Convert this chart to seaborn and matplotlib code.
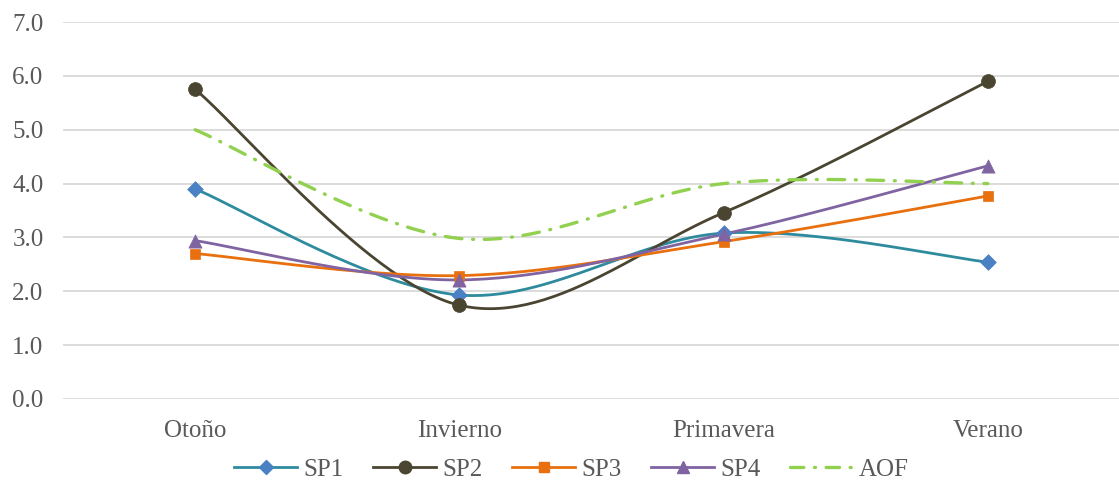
import numpy as np
import pandas as pd
import matplotlib
matplotlib.use("Agg")
import matplotlib.pyplot as plt
import seaborn as sns
from matplotlib.lines import Line2D

# Seasonal values per sampling point
seasons = ["Otoño", "Invierno", "Primavera", "Verano"]
sp1 = [3.90, 1.93, 3.08, 2.54]
sp2 = [5.75, 1.74, 3.46, 5.90]
sp3 = [2.70, 2.29, 2.92, 3.77]
sp4 = [2.94, 2.21, 3.06, 4.33]
aof = [5.00, 2.98, 4.00, 4.00]
yticks = [0.0, 1.0, 2.0, 3.0, 4.0, 5.0, 6.0, 7.0]

series = {"SP1": sp1, "SP2": sp2, "SP3": sp3, "SP4": sp4, "AOF": aof}
colors = {"SP1": "#2E8B9E", "SP2": "#4A4530", "SP3": "#E8700E",
          "SP4": "#8064A2", "AOF": "#92D050"}
marker_colors = {"SP1": "#4A80C4", "SP2": "#4A4530", "SP3": "#E8700E",
                 "SP4": "#8064A2"}
markers = {"SP1": "D", "SP2": "o", "SP3": "s", "SP4": "^"}
msizes = {"SP1": 8, "SP2": 10, "SP3": 7.5, "SP4": 9.5}


def smooth(xs, ys, n=60):
    """Bezier smoothing through the points (Catmull-Rom style control points)."""
    p = np.column_stack([xs, ys]).astype(float)
    ext = np.vstack([p[0], p, p[-1]])
    out = []
    t = np.linspace(0, 1, n)[:, None]
    for i in range(len(p) - 1):
        p0, p1 = ext[i + 1], ext[i + 2]
        c1 = p0 + (ext[i + 2] - ext[i]) / 6.0
        c2 = p1 - (ext[i + 3] - ext[i + 1]) / 6.0
        seg = ((1 - t) ** 3) * p0 + 3 * ((1 - t) ** 2) * t * c1 \
            + 3 * (1 - t) * t ** 2 * c2 + t ** 3 * p1
        out.append(seg if i == 0 else seg[1:])
    return np.vstack(out)


plt.rcParams["font.family"] = ["Liberation Serif", "DejaVu Serif"]
fig = plt.figure(figsize=(11.19, 4.80), dpi=100)
ax = fig.add_axes([0.0563, 0.169, 0.9446, 0.785])

xpos = np.arange(len(seasons))
for name, vals in series.items():
    curve = smooth(xpos, vals)
    df = pd.DataFrame({"x": curve[:, 0], "y": curve[:, 1]})
    if name == "AOF":
        sns.lineplot(data=df, x="x", y="y", ax=ax, sort=False, estimator=None,
                     color=colors[name], linewidth=2.4,
                     dashes=False, zorder=3)
        ax.lines[-1].set_dashes((5, 3.2, 0.3, 3.2))
        ax.lines[-1].set_dash_capstyle("round")
    else:
        sns.lineplot(data=df, x="x", y="y", ax=ax, sort=False, estimator=None,
                     color=colors[name], linewidth=2.0, zorder=3)
        pts = pd.DataFrame({"x": xpos, "y": vals})
        sns.scatterplot(data=pts, x="x", y="y", ax=ax, marker=markers[name],
                        s=msizes[name] ** 2, color=marker_colors[name],
                        edgecolor=marker_colors[name], linewidth=0.5, zorder=4)

ax.set_xlim(-0.5, 3.5)
ax.set_ylim(0, 7)
ax.set_yticks(yticks)
ax.set_yticklabels([f"{v:.1f}" for v in yticks])
ax.set_xticks(xpos)
ax.set_xticklabels(seasons)
ax.set_xlabel("")
ax.set_ylabel("")
ax.grid(axis="y", color="#D9D9D9", linewidth=1.3, zorder=0)
ax.grid(axis="x", visible=False)
ax.set_axisbelow(True)
for s in ax.spines.values():
    s.set_visible(False)
ax.tick_params(axis="both", length=0, labelsize=18, colors="#595959")
ax.tick_params(axis="y", pad=14)
ax.tick_params(axis="x", pad=15)
ax.set_facecolor("white")

handles = []
for name in series:
    if name == "AOF":
        h = Line2D([], [], color=colors[name], linewidth=2.4,
                   dashes=(4, 3.2, 0.3, 3.2), dash_capstyle="round")
    else:
        h = Line2D([], [], color=colors[name], linewidth=2.0,
                   marker=markers[name], markersize=msizes[name] * 0.9,
                   markerfacecolor=marker_colors[name],
                   markeredgecolor=marker_colors[name])
    handles.append(h)
fig.legend(handles, list(series.keys()), loc="lower center",
           bbox_to_anchor=(0.511, -0.048), ncol=5, frameon=False,
           fontsize=18, handlelength=2.5, columnspacing=1.2,
           handletextpad=0.25, labelcolor="#595959")

fig.savefig("out.png", dpi=100, facecolor="white")
